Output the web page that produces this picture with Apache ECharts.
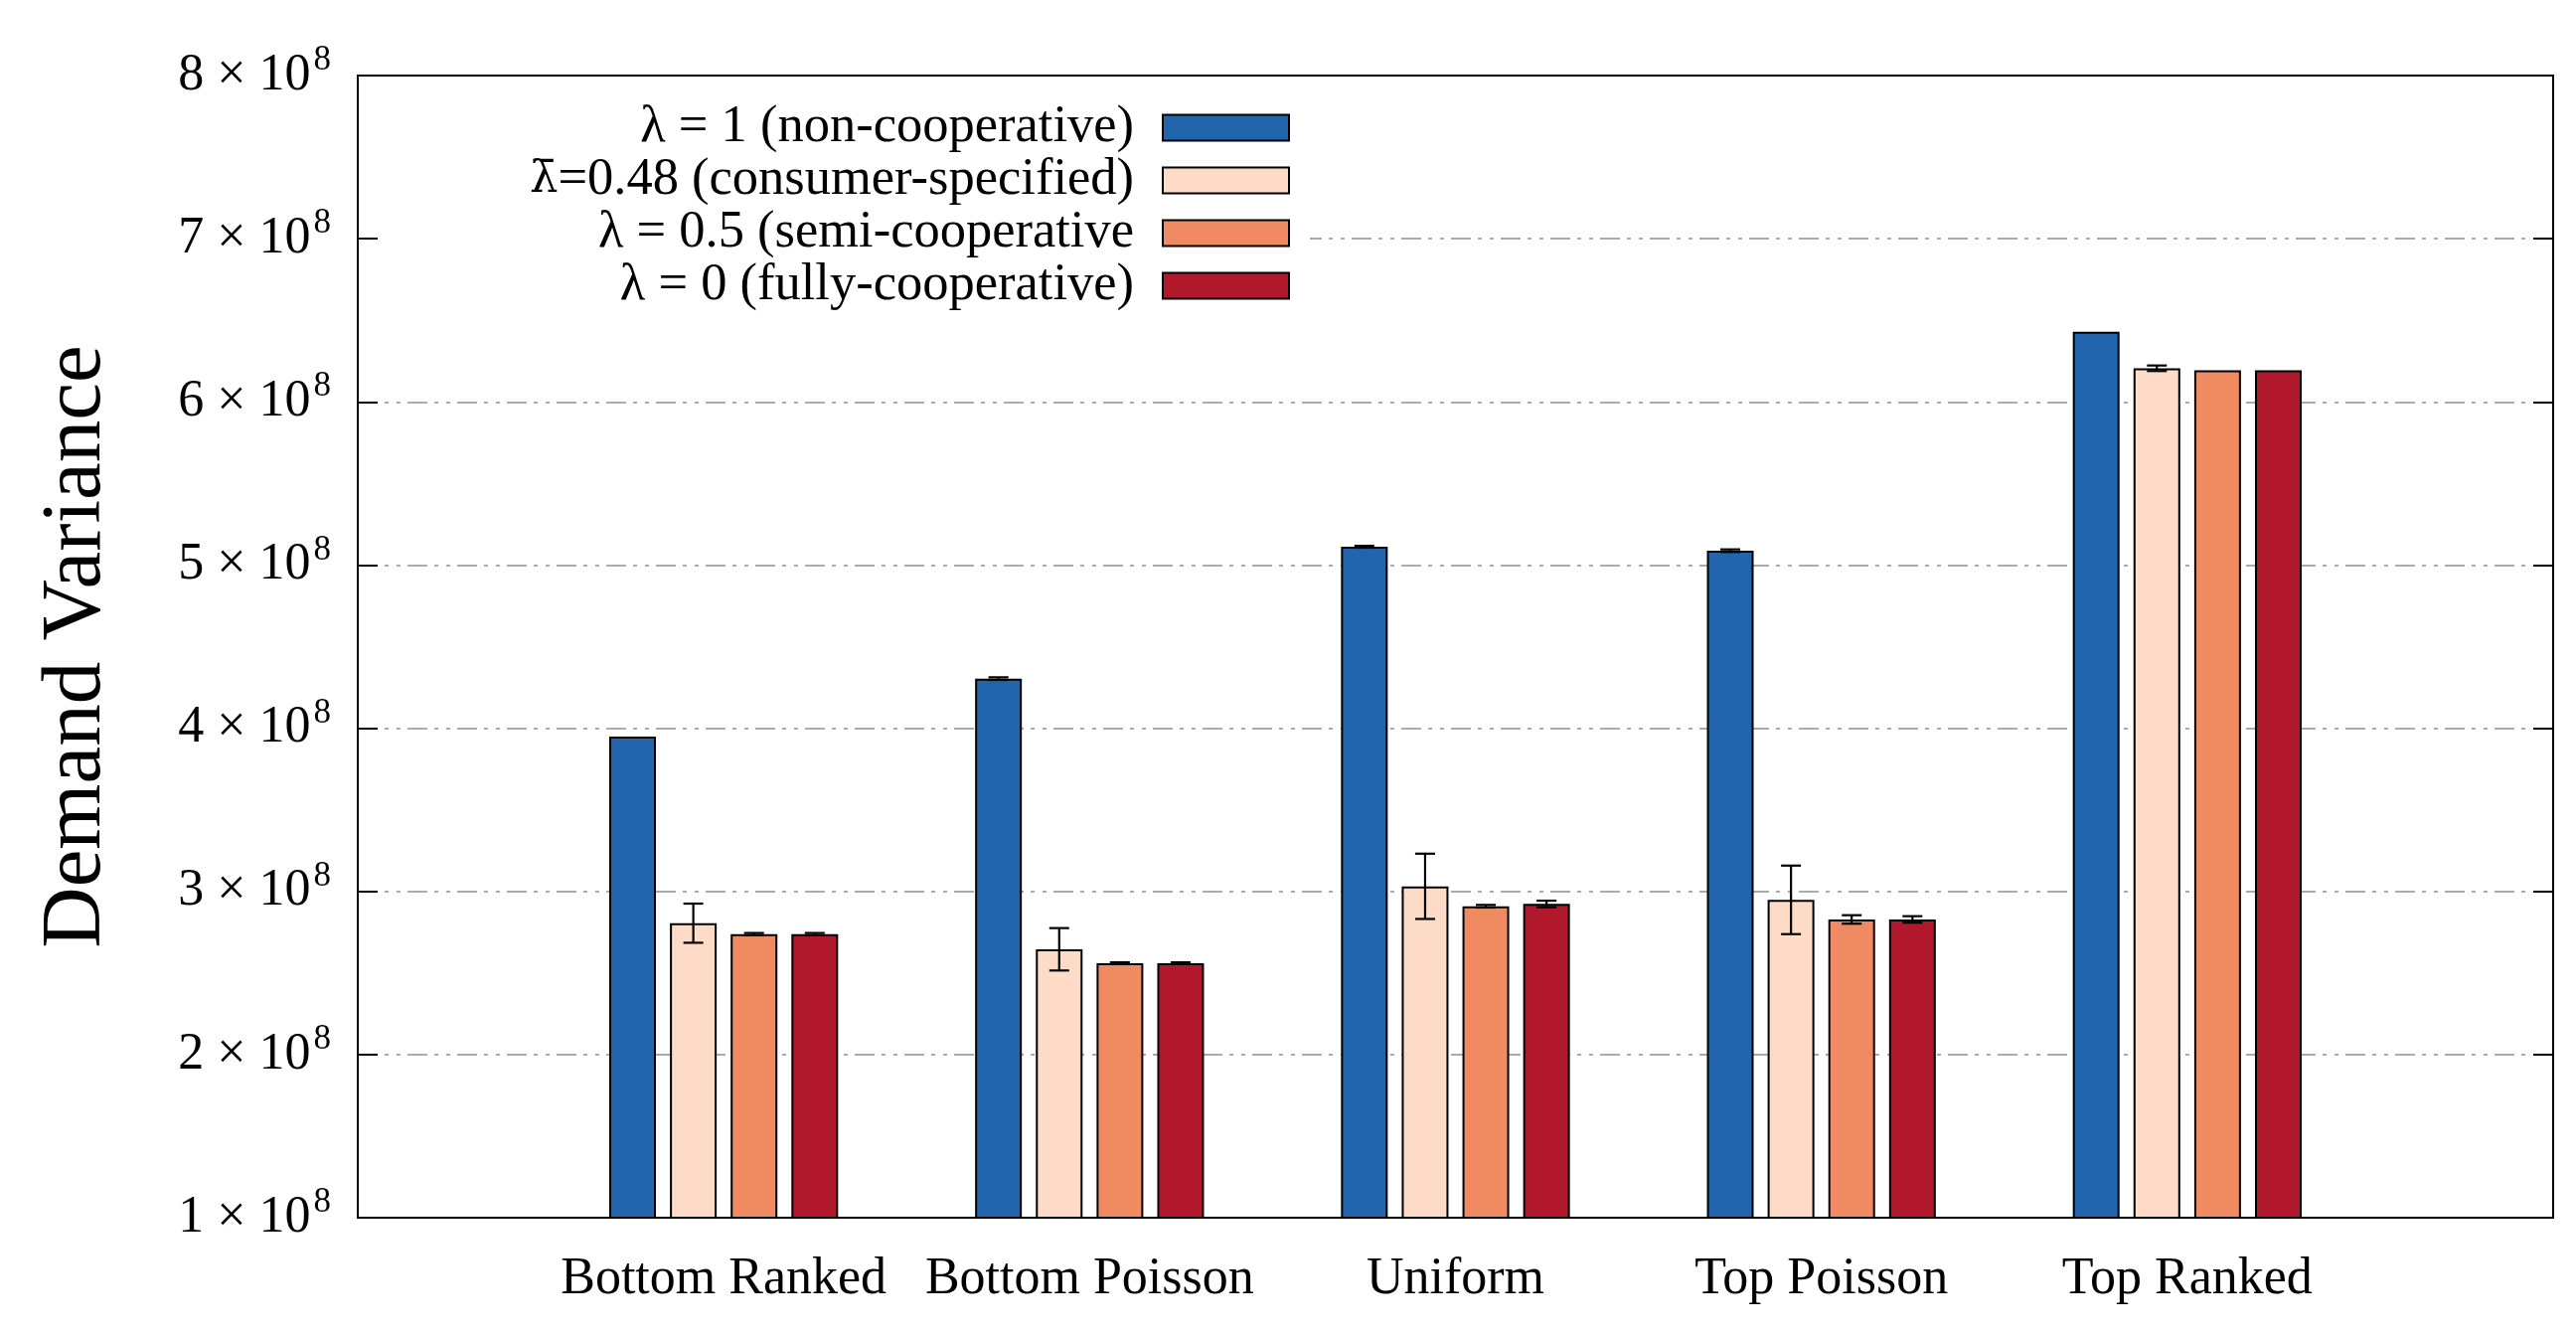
<!DOCTYPE html>
<html>
<head>
<meta charset="utf-8">
<script src="https://cdn.jsdelivr.net/npm/echarts@6/dist/echarts.min.js"></script>
<style>
html,body{margin:0;padding:0;background:#fff;}
#chart{width:2592px;height:1344px;}
</style>
</head>
<body>
<div id="chart"></div>
<script>
// ---- data ----
const categories = ['', 'Bottom Ranked', 'Bottom Poisson', 'Uniform', 'Top Poisson', 'Top Ranked', ''];
const seriesNames = [
  'λ = 1 (non-cooperative)',
  'λ̄=0.48 (consumer-specified)',
  'λ = 0.5 (semi-cooperative',
  'λ = 0 (fully-cooperative)'
];
const nonCoop      = [3.949e8, 4.304e8, 5.112e8, 5.088e8, 6.430e8];
const consumerSpec = [2.805e8, 2.645e8, 3.031e8, 2.948e8, 6.206e8];
const semiCoop     = [2.738e8, 2.560e8, 2.909e8, 2.828e8, 6.194e8];
const fullyCoop    = [2.738e8, 2.560e8, 2.923e8, 2.828e8, 6.194e8];
const nonCoopErr      = [0.000e8, 0.008e8, 0.006e8, 0.008e8, 0.000e8];
const consumerSpecErr = [0.120e8, 0.130e8, 0.200e8, 0.210e8, 0.017e8];
const semiCoopErr     = [0.007e8, 0.005e8, 0.008e8, 0.026e8, 0.000e8];
const fullyCoopErr    = [0.007e8, 0.005e8, 0.020e8, 0.020e8, 0.000e8];
const yTicks = [1, 2, 3, 4, 5, 6, 7, 8];
const colors = ['#2166ac', '#fddbc7', '#ef8a62', '#b2182b'];

const values = [nonCoop, consumerSpec, semiCoop, fullyCoop];
const errors = [nonCoopErr, consumerSpecErr, semiCoopErr, fullyCoopErr];

// ---- layout ----
const FONT = '"Liberation Serif", "Times New Roman", serif';
const BAR_W = 47;
const BAR_GAP = 0.30;
const step = BAR_W * (1 + BAR_GAP);

function padded(arr) { return ['-'].concat(arr).concat(['-']); }

const series = [];
values.forEach(function (vals, i) {
  series.push({
    name: seriesNames[i],
    type: 'bar',
    barWidth: BAR_W,
    barGap: (BAR_GAP * 100) + '%',
    data: padded(vals),
    itemStyle: { color: colors[i], borderColor: '#000', borderWidth: 2 },
    z: 2
  });
});
values.forEach(function (vals, i) {
  const offset = (i - 1.5) * step;
  series.push({
    type: 'custom',
    z: 3,
    silent: true,
    data: vals.map(function (v, k) { return [k + 1, v, errors[i][k]]; }),
    renderItem: function (params, api) {
      const x = api.value(0), v = api.value(1), e = api.value(2);
      if (!e) return null;
      const top = api.coord([x, v + e]);
      const bot = api.coord([x, v - e]);
      const cx = top[0] + offset;
      const cap = 10;
      const st = { stroke: '#000', lineWidth: 2.2 };
      return {
        type: 'group',
        children: [
          { type: 'line', shape: { x1: cx, y1: top[1], x2: cx, y2: bot[1] }, style: st },
          { type: 'line', shape: { x1: cx - cap, y1: top[1], x2: cx + cap, y2: top[1] }, style: st },
          { type: 'line', shape: { x1: cx - cap, y1: bot[1], x2: cx + cap, y2: bot[1] }, style: st }
        ]
      };
    }
  });
});

const yCommon = {
  type: 'value',
  min: 1e8,
  max: 8e8,
  interval: 1e8
};

const LBAR = 'λ̄';

const option = {
  backgroundColor: '#fff',
  animation: false,
  textStyle: { fontFamily: FONT },
  grid: {
    left: 360, right: 23, top: 76, bottom: 119,
    show: true, borderColor: '#000', borderWidth: 2, backgroundColor: 'transparent'
  },
  graphic: [{
    type: 'rect',
    z: 1,
    shape: { x: 383, y: 80, width: 935, height: 232 },
    style: { fill: '#fff' }
  }],
  legend: {
    data: seriesNames,
    orient: 'vertical',
    align: 'right',
    right: 1294,
    top: 102,
    padding: 0,
    itemGap: 0,
    itemWidth: 127,
    itemHeight: 26,
    icon: 'rect',
    itemStyle: { borderColor: '#000', borderWidth: 2 },
    formatter: function (name) {
      if (name.indexOf(LBAR) === 0) {
        return '{l|' + LBAR + '}{t|' + name.slice(LBAR.length) + '}';
      }
      return '{t|' + name + '}';
    },
    textStyle: {
      fontFamily: FONT, fontSize: 52.5, color: '#000', lineHeight: 52.5,
      rich: {
        l: { fontFamily: '"DejaVu Serif"', fontSize: 45, color: '#000', lineHeight: 52.5 },
        t: { fontFamily: FONT, fontSize: 52.5, color: '#000', lineHeight: 52.5, padding: [0, 24, 0, 0] }
      }
    },
    selectedMode: false,
    z: 4
  },
  xAxis: {
    type: 'category',
    data: categories,
    boundaryGap: false,
    axisLine: { show: true, lineStyle: { color: '#000', width: 2 } },
    axisTick: { show: false },
    splitLine: { show: false },
    axisLabel: {
      interval: 0, margin: 36,
      fontFamily: FONT, fontSize: 52, color: '#000'
    }
  },
  yAxis: [
    Object.assign({}, yCommon, {
      position: 'left',
      name: 'Demand Variance',
      nameLocation: 'middle',
      nameGap: 240,
      nameTextStyle: { fontFamily: FONT, fontSize: 85, color: '#000' },
      axisLine: { show: true, lineStyle: { color: '#000', width: 2 } },
      axisTick: { show: true, inside: true, length: 20, lineStyle: { color: '#000', width: 2 } },
      splitLine: {
        show: true, showMinLine: false, showMaxLine: false,
        lineStyle: { color: '#aaaaaa', width: 2, type: [20, 7, 4, 8, 4, 7] }
      },
      axisLabel: {
        margin: 27,
        formatter: function (val) {
          const n = Math.round(val / 1e8);
          return '{m|' + n + ' × 10}{s|8}';
        },
        rich: {
          m: { fontFamily: FONT, fontSize: 52, color: '#000' },
          s: { fontFamily: FONT, fontSize: 35, color: '#000', padding: [0, 0, 30, 3] }
        }
      }
    }),
    Object.assign({}, yCommon, {
      position: 'right',
      axisLine: { show: true, lineStyle: { color: '#000', width: 2 } },
      axisTick: { show: true, inside: true, length: 20, lineStyle: { color: '#000', width: 2 } },
      splitLine: { show: false },
      axisLabel: { show: false }
    })
  ],
  series: series
};

const chart = echarts.init(document.getElementById('chart'), null, { renderer: 'canvas' });
chart.setOption(option);
</script>
</body>
</html>
